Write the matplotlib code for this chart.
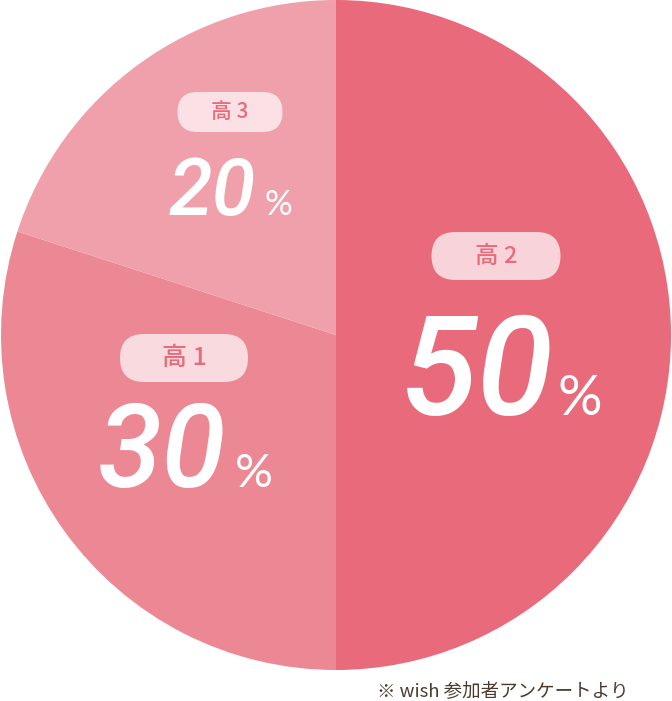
import matplotlib.pyplot as plt
from matplotlib.patches import FancyBboxPatch

W, H = 672, 701

labels = ['高 2', '高 1', '高 3']
values = [50, 30, 20]
colors = ['#E86A7B', '#EC8893', '#F0A0AA']
pill_colors = ['#F8D3D9', '#F9DADE', '#FBE1E5']
source = '※ wish 参加者アンケートより'

# label layout in pixels (y from top): pill centre, pill size, label size,
# number left/baseline, number size, percent left, percent size
pills = [(496, 256, 129, 48, 17), (184, 358, 128, 48, 18), (230, 112, 105, 40, 15)]
nums = [(401, 415, 100, 557, 40), (98, 487, 84, 235, 34), (169, 215, 57, 264, 25)]

plt.rcParams['font.family'] = ['Noto Sans CJK JP', 'DejaVu Sans']

fig = plt.figure(figsize=(W / 100, H / 100), dpi=100)
ax = fig.add_axes([0, 0, 1, 1])

def Y(y):
    return H - y

ax.pie(values, colors=colors, startangle=90, counterclock=False,
       center=(336, Y(335)), radius=335, wedgeprops=dict(linewidth=0))

for i in range(len(values)):
    cx, cy, pw, ph, fs = pills[i]
    ax.add_patch(FancyBboxPatch((cx - pw / 2, Y(cy) - ph / 2), pw, ph,
                                boxstyle='round,pad=0,rounding_size=%g' % (ph / 2),
                                fc=pill_colors[i], ec='none'))
    ax.text(cx, Y(cy), labels[i], ha='center', va='center', fontsize=fs,
            color=colors[0], fontweight='medium')
    nx, ny, ns, px, ps = nums[i]
    ax.text(nx, Y(ny), str(values[i]), ha='left', va='baseline', fontsize=ns,
            color='white', family='Roboto', style='italic', fontweight='medium')
    ax.text(px, Y(ny), '%', ha='left', va='baseline', fontsize=ps,
            color='white', family='Lato', fontweight='normal')

ax.text(629, Y(691), source, ha='right', va='center', fontsize=13.3,
        color='#4B3A2F')

ax.set_xlim(0, W)
ax.set_ylim(0, H)
ax.set_aspect('auto')
ax.axis('off')

fig.savefig('out.png', dpi=100)
